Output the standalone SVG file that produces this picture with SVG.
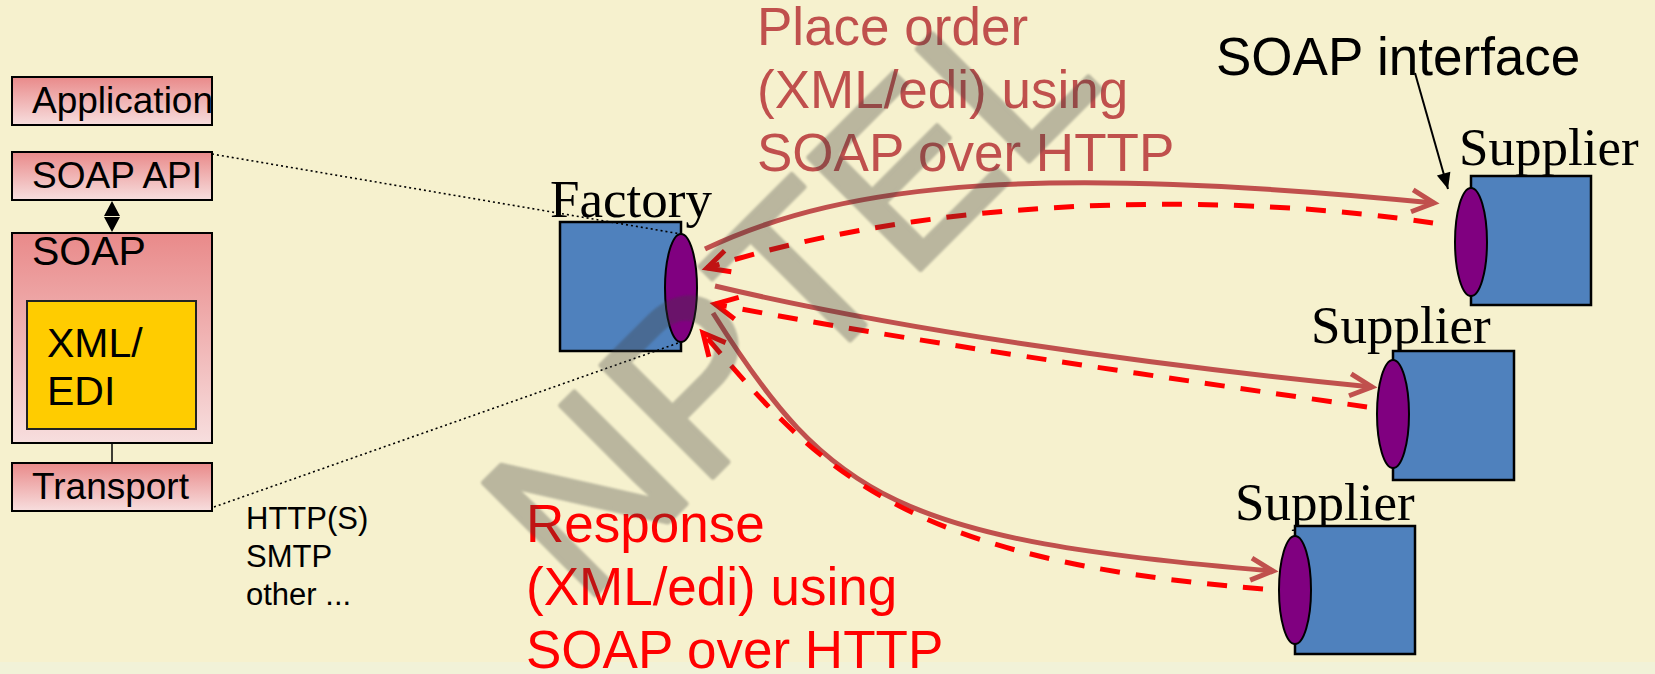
<svg xmlns="http://www.w3.org/2000/svg" width="1655" height="674" viewBox="0 0 1655 674">
<defs>
<linearGradient id="pink" x1="0" y1="0" x2="0" y2="1">
<stop offset="0" stop-color="#e98a8a"/>
<stop offset="1" stop-color="#f7dede"/>
</linearGradient>
<marker id="hSolid" markerUnits="userSpaceOnUse" markerWidth="34" markerHeight="34" viewBox="0 0 34 34" refX="28" refY="17" orient="auto">
<path d="M6,6 L28,17 L6,28" fill="none" stroke="#c0504d" stroke-width="5"/>
</marker>
<marker id="hDash" markerUnits="userSpaceOnUse" markerWidth="34" markerHeight="34" viewBox="0 0 34 34" refX="28" refY="17" orient="auto">
<path d="M6,6 L28,17 L6,28" fill="none" stroke="#ff0000" stroke-width="5"/>
</marker>
<marker id="hBlack" markerUnits="userSpaceOnUse" markerWidth="20" markerHeight="20" viewBox="0 0 20 20" refX="18" refY="10" orient="auto">
<path d="M2,3 L18,10 L2,17 Z" fill="#000"/>
</marker>
<filter id="soft" x="-10%" y="-10%" width="120%" height="120%"><feGaussianBlur stdDeviation="1.2"/></filter>
</defs>
<style>
.sans{font-family:"Liberation Sans",Arial,sans-serif}
.serif{font-family:"Liberation Serif","Times New Roman",serif}
.layer{fill:url(#pink);stroke:#000;stroke-width:2}
.box{fill:#4f81bd;stroke:#000;stroke-width:2.5}
.port{fill:#800080;stroke:#000;stroke-width:2}
.solid{fill:none;stroke:#c0504d;stroke-width:5;marker-end:url(#hSolid)}
.dash{fill:none;stroke:#ff0000;stroke-width:5;stroke-dasharray:20 16;marker-end:url(#hDash)}
.dot{fill:none;stroke:#000;stroke-width:1.6;stroke-dasharray:2 3}
.lbl{font-size:53px}
.supp{font-size:53px;fill:#000}
.layertxt{font-size:37px}
</style>
<rect x="0" y="0" width="1655" height="674" fill="#f6f1ce"/>
<rect x="0" y="662" width="1655" height="12" fill="#f1f2d8"/>

<g id="stack">
<g id="application"><rect class="layer" x="12" y="77" width="200" height="48"/><text class="sans layertxt" x="32" y="113">Application</text></g>
<g id="soap-api"><rect class="layer" x="12" y="152" width="200" height="48"/><text class="sans layertxt" x="32" y="188">SOAP API</text></g>
<g id="api-link"><path d="M112,201 L120,216 L104,216 Z M112,232 L120,217 L104,217 Z" fill="#000"/></g>
<g id="soap"><rect class="layer" x="12" y="233" width="200" height="210"/><text class="sans" x="32" y="265" font-size="41">SOAP</text>
<g id="xml-edi"><rect x="27" y="301" width="169" height="128" fill="#ffcc00" stroke="#222" stroke-width="2"/><text class="sans" font-size="41"><tspan x="47" y="357">XML/</tspan><tspan x="47" y="405">EDI</tspan></text></g></g>
<line x1="112" y1="443" x2="112" y2="463" stroke="#000" stroke-width="1.5"/>
<g id="transport"><rect class="layer" x="12" y="463" width="200" height="48"/><text class="sans layertxt" x="32" y="499">Transport</text></g>
<g id="protocols"><text class="sans" font-size="31"><tspan x="246" y="529">HTTP(S)</tspan><tspan x="246" y="567">SMTP</tspan><tspan x="246" y="605">other ...</tspan></text></g>
</g>

<g id="factory">
<text class="serif supp" x="550" y="217">Factory</text>
<rect class="box" x="560" y="222" width="121" height="129"/>
<ellipse class="port" cx="681" cy="288" rx="16" ry="54"/>
</g>

<g id="supplier1">
<text class="serif supp" x="1459" y="165">Supplier</text>
<rect class="box" x="1471" y="176" width="120" height="129"/>
<ellipse class="port" cx="1471" cy="242" rx="16" ry="54"/>
</g>
<g id="supplier2">
<text class="serif supp" x="1311" y="343">Supplier</text>
<rect class="box" x="1393" y="351" width="121" height="129"/>
<ellipse class="port" cx="1393" cy="414" rx="16" ry="54"/>
</g>
<g id="supplier3">
<text class="serif supp" x="1235" y="520">Supplier</text>
<rect class="box" x="1295" y="526" width="120" height="128"/>
<ellipse class="port" cx="1295" cy="590" rx="16" ry="54"/>
</g>

<g id="labels">
<text class="sans lbl" fill="#c0504d"><tspan x="757" y="45">Place order</tspan><tspan x="757" y="108">(XML/edi) using</tspan><tspan x="757" y="171">SOAP over HTTP</tspan></text>
<text class="sans lbl" fill="#ff0000"><tspan x="526" y="542">Response</tspan><tspan x="526" y="605">(XML/edi) using</tspan><tspan x="526" y="668">SOAP over HTTP</tspan></text>
<text class="sans lbl" fill="#000" x="1216" y="75">SOAP interface</text>
</g>

<g id="connectors">
<path class="dot" d="M212,154 L681,234"/>
<path class="dot" d="M214,507 L681,342"/>
<path class="solid" d="M705,249 C850,180 1050,165 1434,203"/>
<path class="dash" d="M1433,223 C1250,195 950,190 707,268"/>
<path class="solid" d="M715,286 C900,330 1150,365 1372,387"/>
<path class="dash" d="M1367,407 C1150,375 900,340 715,304"/>
<path class="solid" d="M713,313 C830,500 900,540 1273,571"/>
<path class="dash" d="M1263,589 C900,560 820,470 703,333"/>
<path d="M1415,73 L1448,189" fill="none" stroke="#000" stroke-width="2" marker-end="url(#hBlack)"/>
</g>

<g id="watermark" opacity="0.32" filter="url(#soft)">
<text class="sans" font-size="230" fill="#3c3c3c" stroke="#3c3c3c" stroke-width="5" stroke-linejoin="round" transform="translate(582,608) rotate(-45)">NPTEL</text>
</g>
</svg>
